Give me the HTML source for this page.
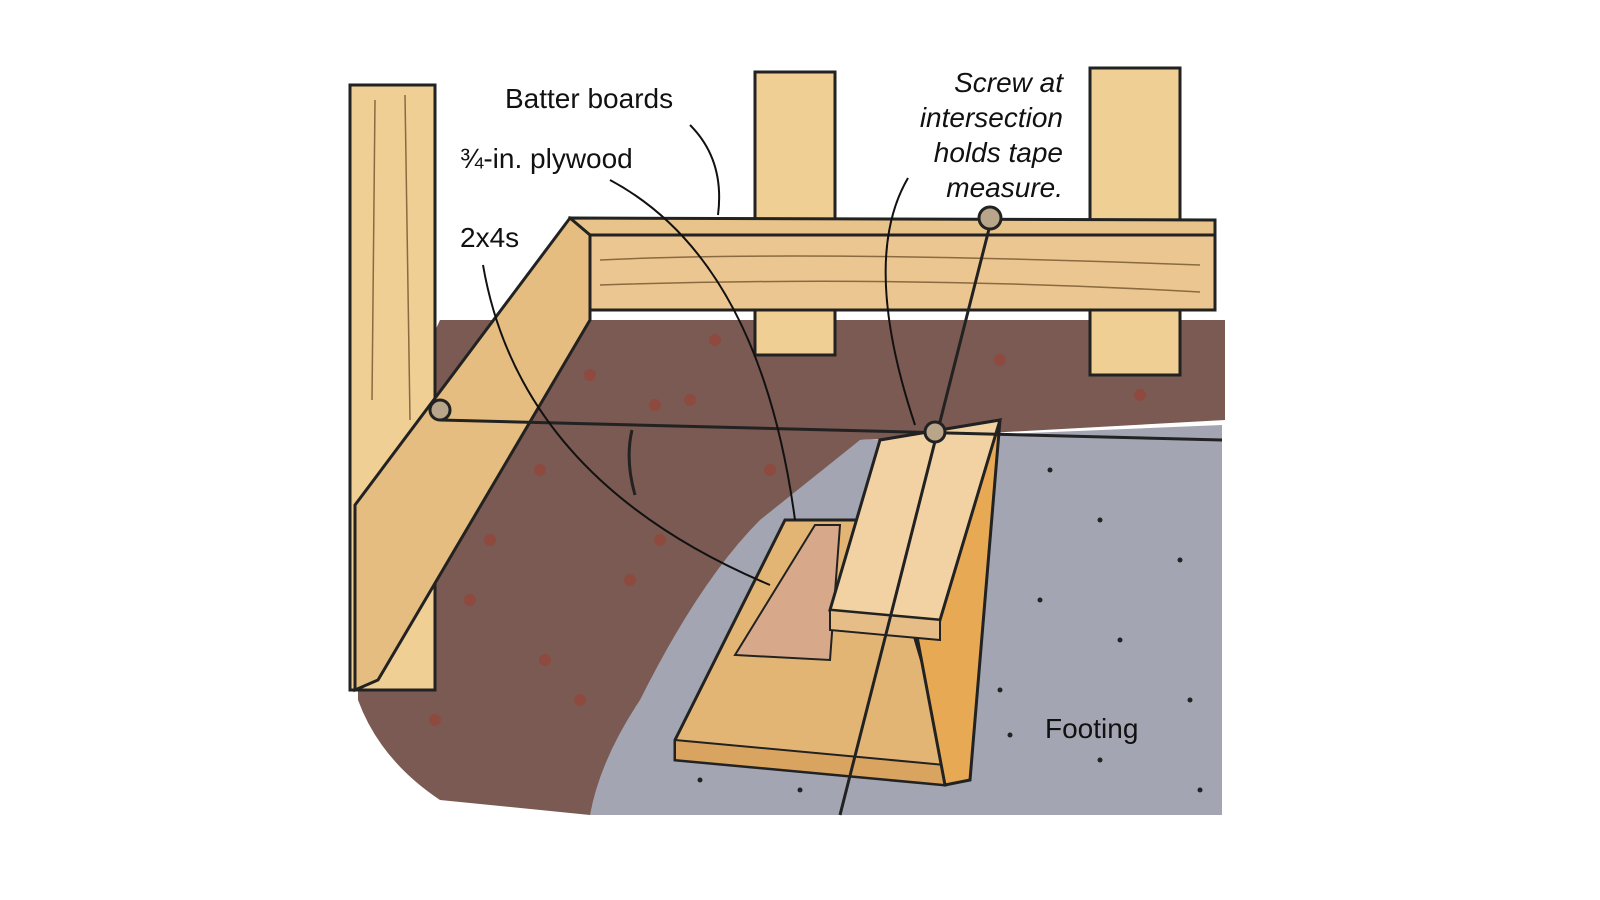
<!DOCTYPE html>
<html><head><meta charset="utf-8"><style>
html,body{margin:0;padding:0;background:#fff;}
svg{display:block}
text{font-family:"Liberation Sans",sans-serif;font-size:28px;fill:#111}
</style></head><body>
<svg width="1600" height="900" viewBox="0 0 1600 900" xmlns="http://www.w3.org/2000/svg">
<rect width="1600" height="900" fill="#fff"/>
<!-- dirt -->
<path d="M440,320 L1225,320 L1225,420 L860,440 L590,815 L440,800 Q380,760 358,700 L358,500 Z" fill="#7a5a52"/>
<g fill="#8e4a3e">
<circle cx="590" cy="375" r="6"/><circle cx="655" cy="405" r="6"/><circle cx="690" cy="400" r="6"/><circle cx="770" cy="470" r="6"/><circle cx="540" cy="470" r="6"/><circle cx="660" cy="540" r="6"/><circle cx="630" cy="580" r="6"/><circle cx="470" cy="600" r="6"/><circle cx="545" cy="660" r="6"/><circle cx="435" cy="720" r="6"/><circle cx="1000" cy="360" r="6"/><circle cx="1140" cy="395" r="6"/><circle cx="715" cy="340" r="6"/><circle cx="490" cy="540" r="6"/><circle cx="580" cy="700" r="6"/>
</g>
<!-- footing -->
<path d="M860,440 L1222,425 L1222,815 L590,815 Q600,760 640,700 Q700,580 760,520 Z" fill="#a3a6b2"/>
<g fill="#222"><circle cx="1050" cy="470" r="2.5"/><circle cx="1100" cy="520" r="2.5"/><circle cx="1180" cy="560" r="2.5"/><circle cx="1040" cy="600" r="2.5"/><circle cx="1120" cy="640" r="2.5"/><circle cx="1000" cy="690" r="2.5"/><circle cx="1190" cy="700" r="2.5"/><circle cx="1100" cy="760" r="2.5"/><circle cx="700" cy="780" r="2.5"/><circle cx="800" cy="790" r="2.5"/><circle cx="1010" cy="735" r="2.5"/><circle cx="1200" cy="790" r="2.5"/></g>
<!-- back posts -->
<rect x="755" y="72" width="80" height="283" fill="#f0cf95" stroke="#222" stroke-width="3"/>
<rect x="1090" y="68" width="90" height="307" fill="#f0cf95" stroke="#222" stroke-width="3"/>
<!-- back board -->
<path d="M570,218 L1215,220 L1215,310 L590,310 Z" fill="#e8c48a" stroke="#222" stroke-width="3"/>
<rect x="590" y="235" width="625" height="75" fill="#ecc690" stroke="#222" stroke-width="3"/>
<g stroke="#8a6a40" stroke-width="1.5" fill="none"><path d="M600,260 Q800,250 1200,265"/><path d="M600,285 Q900,275 1200,292"/></g>
<!-- left post -->
<rect x="350" y="85" width="85" height="605" fill="#f0cf95" stroke="#222" stroke-width="3"/>
<g stroke="#8a6a40" stroke-width="1.5" fill="none"><path d="M375,100 L372,400"/><path d="M405,95 L410,420"/></g>
<!-- left board -->
<path d="M570,218 L590,235 L590,320 L378,680 L355,690 L355,505 Z" fill="#e5bd80" stroke="#222" stroke-width="3"/>
<!-- plywood & 2x4s -->
<path d="M675,740 L785,520 L880,520 L945,740 L945,785 L675,760 Z" fill="#e3b575" stroke="#222" stroke-width="3"/>
<path d="M675,740 L945,765 L945,785 L675,760 Z" fill="#d9a45f" stroke="#222" stroke-width="2"/>
<path d="M735,655 L815,525 L840,525 L830,660 Z" fill="#d7a98a" stroke="#222" stroke-width="2"/>
<path d="M880,440 L1000,420 L970,780 L945,785 Z" fill="#e8a955" stroke="#222" stroke-width="3"/>
<path d="M830,610 L880,440 L1000,420 L940,620 Z" fill="#f2d2a2" stroke="#222" stroke-width="3"/>
<path d="M830,610 L940,620 L940,640 L830,630 Z" fill="#e6bd86" stroke="#222" stroke-width="2"/>
<!-- string lines (on top) -->
<path d="M440,420 L1222,440" stroke="#222" stroke-width="3" fill="none"/>
<path d="M990,225 L840,815" stroke="#222" stroke-width="3" fill="none"/>
<path d="M632,430 Q625,460 635,495" stroke="#222" stroke-width="3" fill="none"/>
<circle cx="440" cy="410" r="10" fill="#b9a58a" stroke="#222" stroke-width="3"/>
<circle cx="990" cy="218" r="11" fill="#b9a58a" stroke="#222" stroke-width="3"/>
<circle cx="935" cy="432" r="10" fill="#b9a58a" stroke="#222" stroke-width="3"/>
<!-- leader lines -->
<g stroke="#111" stroke-width="2" fill="none">
<path d="M690,125 Q725,160 718,215"/>
<path d="M610,180 Q760,260 795,520"/>
<path d="M483,265 Q520,480 770,585"/>
<path d="M908,178 Q860,260 915,425"/>
</g>
<text x="505" y="108">Batter boards</text>
<text x="460" y="168">¾-in. plywood</text>
<text x="460" y="247">2x4s</text>
<g text-anchor="end">
<text x="1063" y="92" font-style="italic">Screw at</text>
<text x="1063" y="127" font-style="italic">intersection</text>
<text x="1063" y="162" font-style="italic">holds tape</text>
<text x="1063" y="197" font-style="italic">measure.</text>
</g>
<text x="1045" y="738">Footing</text>
</svg>
</body></html>
